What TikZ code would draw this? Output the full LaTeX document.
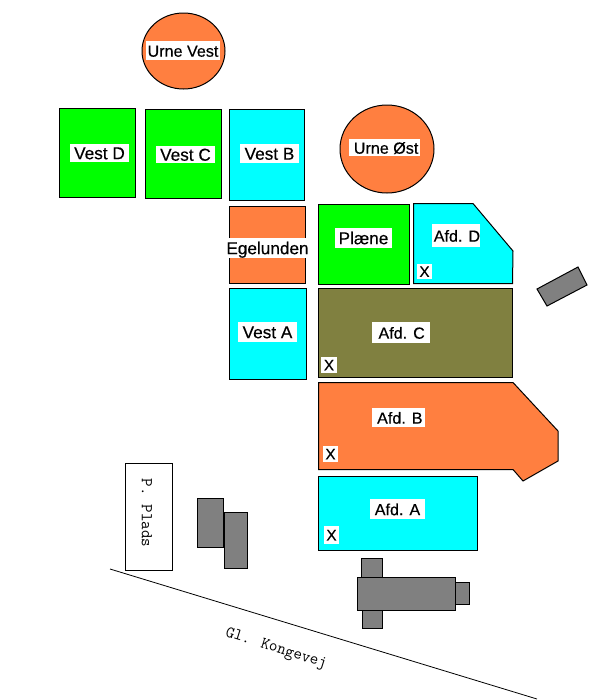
\documentclass[tikz,border=0pt]{standalone}
\usepackage{fontspec}
\setmainfont{Liberation Sans}
\newfontfamily\platfont[FakeBold=0.35]{Liberation Sans}
\definecolor{orng}{HTML}{FF7F40}
\definecolor{olv}{HTML}{808040}
\definecolor{cyn}{HTML}{00FFFF}
\definecolor{grn}{HTML}{00FF00}
\definecolor{gry}{HTML}{808080}
\tikzset{
  plot/.style={draw=black,line width=0.75pt,line join=miter},
  orangeplot/.style={plot,fill=orng},
  oliveplot/.style={plot,fill=olv},
  cyanplot/.style={plot,fill=cyn},
  greenplot/.style={plot,fill=grn},
  grayplot/.style={plot,fill=gry},
  labelbg/.style={fill=white,draw=none},
  labeltext/.style={inner sep=0pt,font=\platfont\fontsize{12.9}{15}\selectfont,text=black,text height=9.3pt,text depth=0pt},
  shorttext/.style={labeltext,font=\platfont\fontsize{12.1}{15}\selectfont},
  marktext/.style={inner sep=0pt,font=\platfont\fontsize{11.5}{13}\selectfont,text=black,text height=8.2pt,text depth=0pt},
  typed/.style={inner sep=0pt,font=\ttfamily\fontsize{12.4}{14}\selectfont,text=black},
}
\newcommand{\lab}[6][labeltext]{%
  \fill[labelbg] (#2,#3) rectangle (#4,#5);
  \node[#1] at ({(#2+#4)/2},{(#3+#5)/2}) {#6};}
\begin{document}
\begin{tikzpicture}[x=0.75pt,y=-0.75pt]
\useasboundingbox (0,0) rectangle (600,700);
\fill[white] (0,0) rectangle (600,700);
% urns
\draw[orangeplot] (183.5,51) ellipse [x radius=41.5,y radius=38];
\draw[orangeplot] (387,149) ellipse [x radius=47,y radius=44];
% west plots
\draw[greenplot] (59.5,108.5) rectangle (135.5,197.5);
\draw[greenplot] (145.5,109.5) rectangle (221.5,198.5);
\draw[cyanplot] (229.5,109.5) rectangle (304.5,200.5);
\draw[orangeplot] (229.5,206.5) rectangle (305.5,283.5);
\draw[cyanplot] (229.5,288.5) rectangle (306.5,379.5);
% east plots
\draw[greenplot] (318.5,204.5) rectangle (409.5,284.5);
\draw[cyanplot] (413.5,203.5) -- (473,203.5) -- (513,251) -- (512.5,283.5) -- (413.5,283.5) -- cycle;
\draw[oliveplot] (318.5,288.5) rectangle (512.5,377.5);
\draw[orangeplot] (318.5,382.5) -- (513,382.5) -- (558,431) -- (558,461) -- (523,481) -- (513,469.5) -- (318.5,469.5) -- cycle;
\draw[cyanplot] (318.5,476.5) rectangle (477.5,550.5);
% labels
\lab[shorttext]{146}{41}{220}{60}{Urne Vest}
\lab[shorttext,xshift=1.2pt]{349}{139}{420}{156}{Urne Øst}
\lab{70}{144}{129}{162}{Vest D}
\lab{156}{146}{215}{163}{Vest C}
\lab{240}{144}{299}{163}{Vest B}
\lab{226}{238}{309}{258}{Egelunden}
\lab{238}{322}{297}{342}{Vest A}
\lab{335}{228}{392}{248}{Plæne}
\lab[shorttext,xshift=0.7pt]{432}{224}{480}{247}{Afd. D}
\lab[shorttext,xshift=0.5pt]{372}{322}{430}{343}{Afd. C}
\lab[shorttext,xshift=1pt]{372}{408}{425}{427}{Afd. B}
\lab[shorttext]{370}{499}{425}{519}{Afd. A}
\lab[marktext]{417}{264}{432}{279}{X}
\lab[marktext]{321}{357}{337}{373}{X}
\lab[marktext]{323}{446}{338}{462}{X}
\lab[marktext]{324}{526}{339}{544}{X}
% grey buildings
\draw[grayplot] (537,289) -- (578,267) -- (587,285) -- (547,306) -- cycle;
\draw[grayplot] (197.5,498.5) rectangle (223.5,547.5);
\draw[grayplot] (224.5,512.5) rectangle (247.5,568.5);
\draw[grayplot] (361.5,558.5) rectangle (382.5,577.5);
\draw[grayplot] (362.5,610.5) rectangle (382.5,628.5);
\draw[grayplot] (454.5,582.5) rectangle (469.5,604.5);
\draw[grayplot] (357.5,577.5) rectangle (455.5,610.5);
% parking
\draw[plot,fill=white] (125.5,463.5) rectangle (172.5,570.5);
\node[typed,rotate=-90] (pplads) at (147,513) {P. Plads};
% road
\coordinate (roadA) at (110,569);
\coordinate (roadB) at (537,699);
\draw[black,line width=0.6pt] (roadA) -- (roadB);
\node[typed,rotate=-17.5] (road) at (276,649) {Gl. Kongevej};
\end{tikzpicture}
\end{document}
